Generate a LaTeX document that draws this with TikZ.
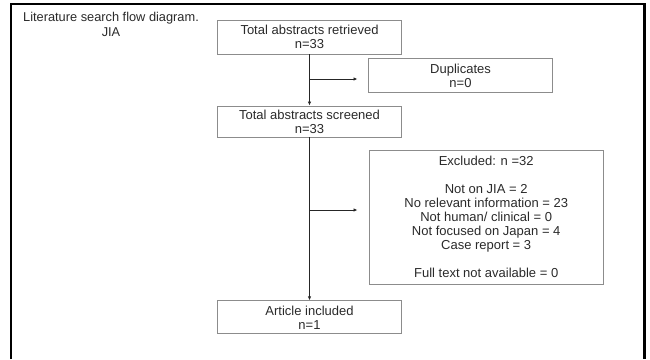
\documentclass[tikz,border=0pt]{standalone}
\usepackage{fontspec}
\setmainfont{Liberation Sans}
\usetikzlibrary{arrows.meta}
\definecolor{boxline}{HTML}{8C8C8C}
\definecolor{txt}{HTML}{2A2A2A}
\tikzset{
  flowbox/.style={draw=boxline, line width=0.9pt, minimum width=184pt,
    minimum height=33pt, align=center, inner sep=2pt, text=txt,
    font=\fontsize{13}{14}\selectfont},
  link/.style={draw=black!85, line width=1pt,
    -{Latex[length=4pt,width=3.5pt]}},
  frameline/.style={line width=2.2pt, black}
}
\begin{document}
\begin{tikzpicture}[x=1pt,y=-1pt]
  \useasboundingbox (0,0) rectangle (650,359);
  % outer frame (open at the bottom)
  \draw[frameline] (11,359) -- (11,4) -- (644.5,4) -- (644.5,359);

  % title
  \node[align=center, text=txt, font=\fontsize{12.8}{15}\selectfont] (title) at (111,24)
    {Literature search flow diagram.\\JIA};

  % main column
  \node[flowbox, minimum height=34pt] (retrieved) at (309.5,37)
    {Total abstracts retrieved\\n=33};
  \node[flowbox, minimum height=31pt] (screened) at (309.5,121.5)
    {Total abstracts screened\\n=33};
  \node[flowbox, minimum height=33pt] (included) at (309.5,317.3)
    {Article included\\n=1};

  % side boxes
  \node[flowbox, minimum height=34pt] (dups) at (460.5,75.5)
    {Duplicates\\n=0};
  \node[flowbox, minimum width=234pt, minimum height=134pt] (excluded) at (486.2,217)
    {Excluded: n =32\\[14pt]
     Not on JIA = 2\\
     No relevant information = 23\\
     Not human/ clinical = 0\\
     Not focused on Japan = 4\\
     Case report = 3\\[14pt]
     Full text not available = 0};

  % connectors
  \coordinate (b1) at (retrieved.south |- 0,79);
  \coordinate (b2) at (screened.south |- 0,210);
  \draw[link] (retrieved) -- (screened);
  \draw[link] (screened) -- (included);
  \draw[link] (b1) -- ++(48,0) coordinate (e1);
  \draw[link] (b2) -- ++(48,0) coordinate (e2);
\end{tikzpicture}
\end{document}
